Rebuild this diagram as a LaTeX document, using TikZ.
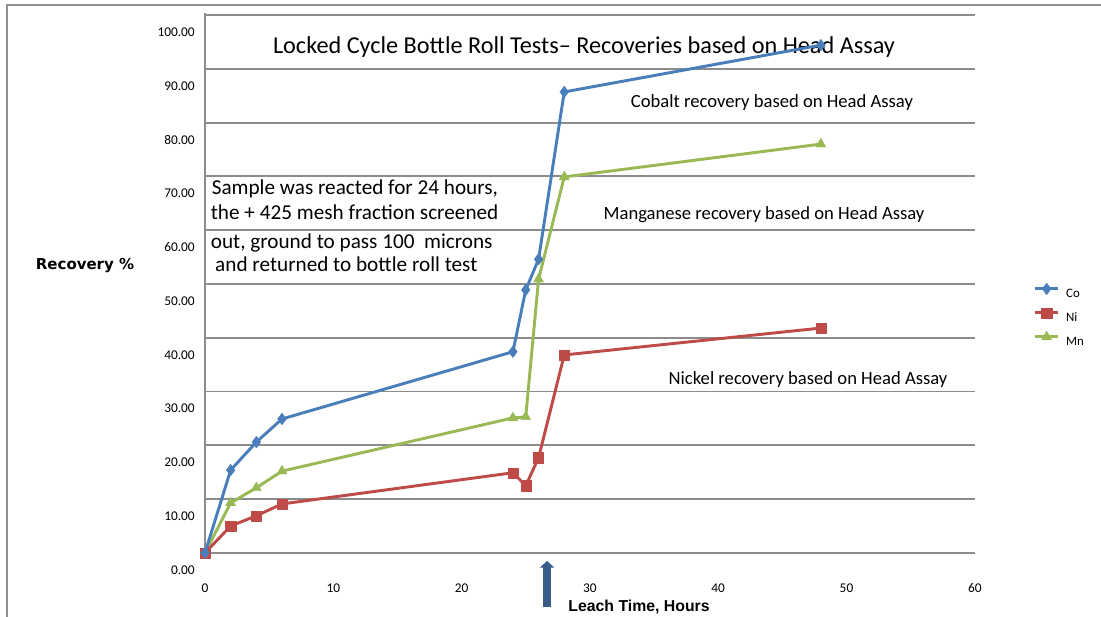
\documentclass[tikz,border=0pt]{standalone}
\usepackage{fontspec}
\setmainfont{Carlito}
\newfontfamily\arialfont{Liberation Sans}
\newfontfamily\verdfont{DejaVu Sans}
\usetikzlibrary{arrows.meta,plotmarks}

\definecolor{coblue}{HTML}{4A7EBB}
\definecolor{nired}{HTML}{BE4B48}
\definecolor{mngreen}{HTML}{98B954}
\definecolor{gridgray}{HTML}{8C8C8C}
\definecolor{framegray}{HTML}{8F8F8F}
\definecolor{arrowblue}{HTML}{385D8A}

\begin{document}
\begin{tikzpicture}[x=0.385cm,y=0.1614cm,
  grid/.style={draw=gridgray,line width=1.6pt},
  ticklab/.style={font=\fontsize{11.4}{13}\selectfont,inner sep=0pt},
  note/.style={font=\fontsize{15.9}{18}\selectfont,inner sep=0pt},
  sample/.style={font=\fontsize{18.1}{21}\selectfont,anchor=base west,inner sep=0pt},
  leglab/.style={font=\fontsize{11}{13}\selectfont,anchor=west,inner sep=0pt},
  series/.style={line width=2.5pt,line join=round},
  co/.style={series,coblue,mark=diamond*,mark size=5pt,
    mark options={solid,line width=0.3pt,fill=coblue}},
  ni/.style={series,nired,mark=square*,mark size=4.3pt,
    mark options={solid,line width=0.3pt,fill=nired}},
  mn/.style={series,mngreen,mark=triangle*,mark size=5pt,
    mark options={solid,line width=0.3pt,fill=mngreen}}]
\useasboundingbox (-15.978,-11.896) rectangle (69.836,102.79);

% chart frame
\draw[framegray,line width=1.6pt] (-15.43,-11.896) -- (-15.43,101.86) -- (69.836,101.86);

% grid and axis labels
\foreach \v in {0,10,...,100} {
  \draw[grid] (0,\v) -- (60,\v);
  \node[ticklab,anchor=east] (ylab\v) at (-0.78,\v-3.16) {\v.00};
}
\draw[grid] (0,0) -- (0,100.4);
\foreach \t in {0,10,...,60}
  \node[ticklab] (xlab\t) at (\t,-6.5) {\t};

% titles
\node[font=\fontsize{20.7}{24}\selectfont,inner sep=0pt] (title) at (29.54,94.1)
  {Locked Cycle Bottle Roll Tests– Recoveries based on Head Assay};
\node[font=\verdfont\bfseries\fontsize{12.8}{15}\selectfont,inner sep=0pt] (ytitle)
  at (-9.35,53.35) {Recovery \%};
\node[font=\arialfont\bfseries\fontsize{13.5}{16}\selectfont,inner sep=0pt] (xtitle)
  at (33.83,-10.04) {Leach Time, Hours};

% notes
\node[note] (conote) at (44.19,83.64) {Cobalt recovery based on Head Assay};
\node[note] (mnnote) at (43.57,62.83) {Manganese recovery based on Head Assay};
\node[note] (ninote) at (47.0,32.16) {Nickel recovery based on Head Assay};
\node[sample] (samp1) at (0.51,66.54) {Sample was reacted for 24 hours,};
\node[sample] (samp2) at (0.44,61.9) {the + 425 mesh fraction screened};
\node[sample] (samp3) at (0.44,56.5) {out, ground to pass 100\ \ microns};
\node[sample] (samp4) at (0.78,52.4) {and returned to bottle roll test};

% data
\draw[mn] plot coordinates {(0,0) (2,9.3) (4,12.1) (6,15.2) (24,25.1)
  (25,25.3) (26,50.9) (28,69.9) (48,76.0)};
\draw[ni] plot coordinates {(0,0) (2,5.0) (4,6.9) (6,9.1) (24,14.9)
  (25,12.5) (26,17.7) (28,36.8) (48,41.8)};
\draw[co] plot coordinates {(0,0) (2,15.4) (4,20.6) (6,24.9) (24,37.4)
  (25,48.9) (26,54.6) (28,85.7) (48,94.4)};

% legend
\draw[co] plot[mark indices={2}] coordinates {(64.69,49.07) (65.6,49.07) (66.48,49.07)};
\draw[ni] plot[mark indices={2}] coordinates {(64.69,44.61) (65.6,44.61) (66.48,44.61)};
\draw[mn] plot[mark indices={2}] coordinates {(64.69,40.15) (65.6,40.15) (66.48,40.15)};
\node[leglab] (legco) at (67.1,48.3) {Co};
\node[leglab] (legni) at (67.1,43.8) {Ni};
\node[leglab] (legmn) at (67.1,39.3) {Mn};

% restart marker
\coordinate (arrowtail) at (26.66,-10.04);
\coordinate (arrowtip) at (26.66,-1.49);
\draw[arrowblue,line width=6.5pt,-{Triangle[length=0.2cm,width=0.42cm]}] (arrowtail) -- (arrowtip);
\end{tikzpicture}
\end{document}
